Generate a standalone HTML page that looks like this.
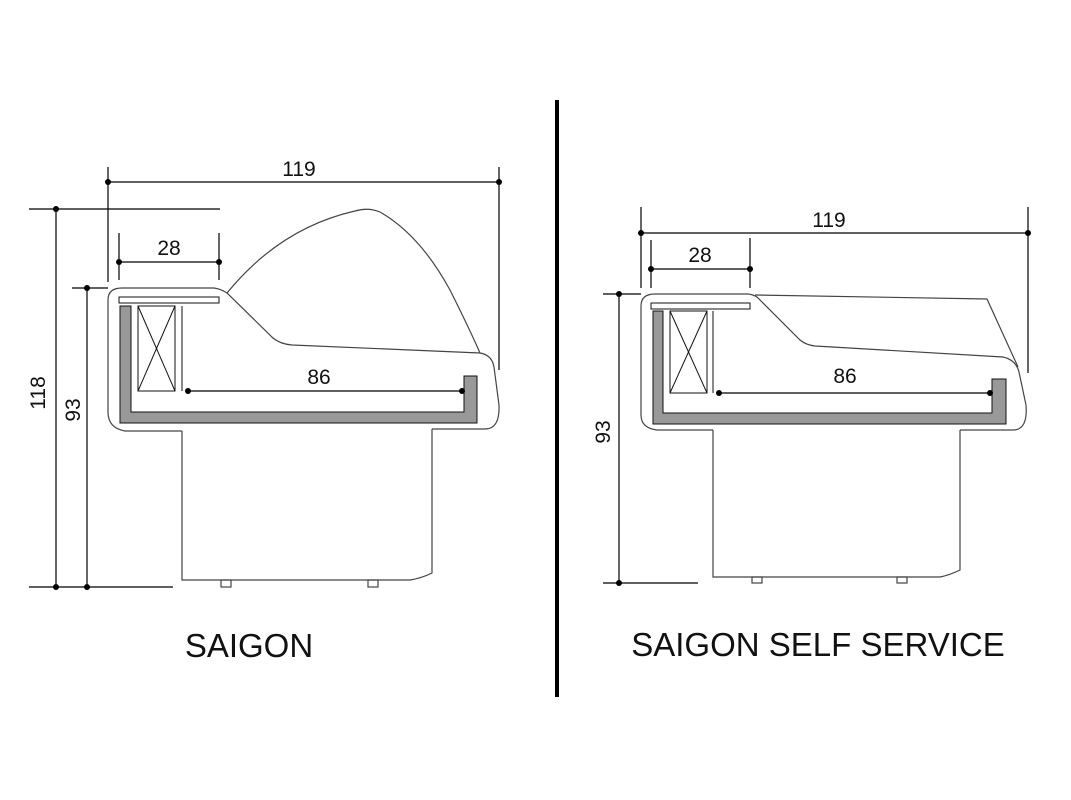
<!DOCTYPE html>
<html><head><meta charset="utf-8"><style>
html,body{margin:0;padding:0;background:#fff}
svg{display:block}
text{font-family:"Liberation Sans",Arial,sans-serif;fill:#111}
</style></head><body>
<svg width="1071" height="800" viewBox="0 0 1071 800" xmlns="http://www.w3.org/2000/svg">
<rect width="1071" height="800" fill="#fff"/>
<line x1="557" y1="100" x2="557" y2="697" stroke="#000" stroke-width="4"/>

<!-- LEFT -->
<g stroke="#000" stroke-width="1.2" fill="none">
<line x1="108" y1="182" x2="499" y2="182"/>
<line x1="108" y1="167" x2="108" y2="282"/>
<line x1="499" y1="167" x2="499" y2="370"/>
<line x1="56" y1="209" x2="56" y2="587"/>
<line x1="29" y1="209" x2="220" y2="209"/>
<line x1="29" y1="587" x2="173" y2="587"/>
<line x1="87" y1="288" x2="87" y2="587"/>
<line x1="72" y1="288" x2="108" y2="288"/>
<line x1="119" y1="262" x2="219" y2="262"/>
<line x1="119" y1="233" x2="119" y2="280"/>
<line x1="219" y1="233" x2="219" y2="280"/>
<line x1="188" y1="391" x2="462" y2="391"/>
</g>
<g stroke="#444" stroke-width="1.2" fill="none">
<path d="M182 431 L125 431 Q108 428 108 412 L108 300 Q108 288 122 288 L214 288 Q221 289 227 293 L273 338 Q280 344 292 345 L480 353 Q492 355 494 367 L499 405 Q500 429 485 429 L432 429"/>
<path d="M227 293 Q280 228 355 211 Q368 207 380 212 Q420 235 450 290 Q470 330 480 353"/>
<path d="M182 431 L182 580 L410 580 Q422 578 432 573 L432 429"/>
<rect x="221" y="580" width="10" height="7"/>
<rect x="368" y="580" width="10" height="7"/>
</g>
<path d="M120 306 L131 306 L131 412 L464 412 L464 376 L477 376 L477 423 L120 423 Z" fill="#999" stroke="#111" stroke-width="1"/>
<rect x="119" y="297" width="100" height="6" fill="#fff" stroke="#111" stroke-width="1"/>
<g stroke="#111" stroke-width="1" fill="none">
<rect x="138" y="306" width="37" height="85"/>
<line x1="138" y1="306" x2="175" y2="391"/><line x1="175" y1="306" x2="138" y2="391"/>
<line x1="182" y1="306" x2="182" y2="391"/>
</g>
<g fill="#000">
<circle cx="108" cy="182" r="3"/><circle cx="499" cy="182" r="3"/>
<circle cx="56" cy="209" r="3"/><circle cx="56" cy="587" r="3"/>
<circle cx="87" cy="288" r="3"/><circle cx="87" cy="587" r="3"/>
<circle cx="119" cy="262" r="3"/><circle cx="219" cy="262" r="3"/>
<circle cx="188" cy="391" r="3"/><circle cx="462" cy="391" r="3"/>
</g>
<text x="299" y="176" font-size="21" text-anchor="middle">119</text>
<text x="169" y="255" font-size="21" text-anchor="middle">28</text>
<text x="319" y="384" font-size="21" text-anchor="middle">86</text>
<text transform="translate(45,393) rotate(-90)" font-size="21" text-anchor="middle">118</text>
<text transform="translate(80,410) rotate(-90)" font-size="21" text-anchor="middle">93</text>
<text x="249" y="657" font-size="33" text-anchor="middle">SAIGON</text>

<!-- RIGHT -->
<g stroke="#000" stroke-width="1.2" fill="none">
<line x1="641" y1="233" x2="1028" y2="233"/>
<line x1="641" y1="207" x2="641" y2="288"/>
<line x1="1028" y1="207" x2="1028" y2="373"/>
<line x1="651" y1="269" x2="750" y2="269"/>
<line x1="651" y1="240" x2="651" y2="288"/>
<line x1="750" y1="238" x2="750" y2="288"/>
<line x1="619" y1="294" x2="619" y2="583"/>
<line x1="603" y1="294" x2="641" y2="294"/>
<line x1="603" y1="583" x2="698" y2="583"/>
<line x1="719" y1="393" x2="990" y2="393"/>
</g>
<g stroke="#444" stroke-width="1.2" fill="none">
<path d="M713 430 L657 430 Q641 428 641 415 L641 306 Q641 294 655 294 L747 294 Q752 294 757 297 L800 340 Q806 345 815 346 L1003 357 Q1016 360 1019 372 L1026 405 Q1028 430 1013 430 L960 430"/>
<path d="M755 295 L987 299 L1018 367"/>
<path d="M713 430 L713 577 L940 577 Q950 575 960 570 L960 430"/>
<rect x="752" y="577" width="10" height="6"/>
<rect x="897" y="577" width="10" height="6"/>
</g>
<path d="M653 311 L663 311 L663 413 L992 413 L992 379 L1006 379 L1006 424 L653 424 Z" fill="#999" stroke="#111" stroke-width="1"/>
<rect x="651" y="303" width="99" height="6" fill="#fff" stroke="#111" stroke-width="1"/>
<g stroke="#111" stroke-width="1" fill="none">
<rect x="670" y="311" width="37" height="82"/>
<line x1="670" y1="311" x2="707" y2="393"/><line x1="707" y1="311" x2="670" y2="393"/>
<line x1="713" y1="311" x2="713" y2="393"/>
</g>
<g fill="#000">
<circle cx="641" cy="233" r="3"/><circle cx="1028" cy="233" r="3"/>
<circle cx="651" cy="269" r="3"/><circle cx="750" cy="269" r="3"/>
<circle cx="619" cy="294" r="3"/><circle cx="619" cy="583" r="3"/>
<circle cx="719" cy="393" r="3"/><circle cx="990" cy="393" r="3"/>
</g>
<text x="829" y="227" font-size="21" text-anchor="middle">119</text>
<text x="700" y="262" font-size="21" text-anchor="middle">28</text>
<text x="845" y="383" font-size="21" text-anchor="middle">86</text>
<text transform="translate(610,432) rotate(-90)" font-size="21" text-anchor="middle">93</text>
<text x="818" y="656" font-size="33" text-anchor="middle">SAIGON SELF SERVICE</text>
</svg>
</body></html>
